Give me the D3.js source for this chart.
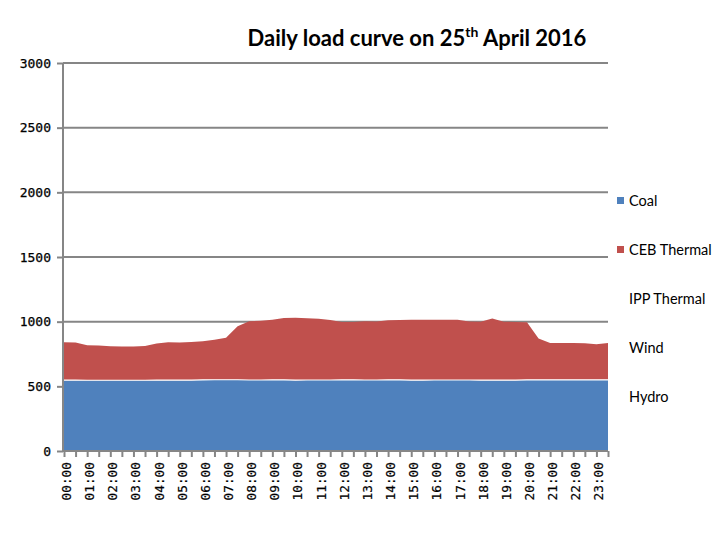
<!DOCTYPE html>
<html><head><meta charset="utf-8">
<script src="https://cdn.jsdelivr.net/npm/d3@7"></script>
<style>body{margin:0;background:#fff;}svg{display:block;}</style>
</head><body>
<svg id="c" width="720" height="540"></svg>
<script>
const times = ["00:00","00:30","01:00","01:30","02:00","02:30","03:00","03:30","04:00","04:30","05:00","05:30",
"06:00","06:30","07:00","07:30","08:00","08:30","09:00","09:30","10:00","10:30","11:00","11:30",
"12:00","12:30","13:00","13:30","14:00","14:30","15:00","15:30","16:00","16:30","17:00","17:30",
"18:00","18:30","19:00","19:30","20:00","20:30","21:00","21:30","22:00","22:30","23:00","23:30"];
const hourLabels = ["00:00","01:00","02:00","03:00","04:00","05:00","06:00","07:00","08:00","09:00","10:00","11:00",
"12:00","13:00","14:00","15:00","16:00","17:00","18:00","19:00","20:00","21:00","22:00","23:00"];
const coal = [548,548,547,547,547,547,547,547,548,548,548,548,550,551,551,551,549,549,550,550,548,549,549,549,
550,550,549,549,550,550,548,548,549,549,549,549,548,548,548,548,550,550,550,550,550,550,550,550];
const cebThermal = [292,290,271,268,263,261,261,265,284,292,290,294,298,309,324,414,454,459,465,478,482,477,473,463,
448,447,454,453,460,462,467,467,466,466,465,453,452,477,452,450,446,320,286,285,285,284,276,286];
const legendNames = ["Coal","CEB Thermal","IPP Thermal","Wind","Hydro"];
const legendColors = ["#4F81BD","#C0504D",null,null,null];
const yTicks = [0,500,1000,1500,2000,2500,3000];

const svg = d3.select("#c");
const L=63, R=608, T=63, B=451;
const x = d3.scalePoint().domain(times).range([L+1, R]);
const y = d3.scaleLinear().domain([0,3000]).range([B, T]);
const grid="#868686";

// gridlines
svg.append("g").selectAll("line").data(yTicks.filter(d=>d>0)).join("line")
  .attr("x1",L).attr("x2",R).attr("y1",d=>y(d)).attr("y2",d=>y(d))
  .attr("stroke",grid).attr("stroke-width",2);

const data = times.map((t,i)=>({t, coal:coal[i], ceb:cebThermal[i]}));
const stack = d3.stack().keys(["coal","ceb"])(data);
const area = d3.area().x(d=>x(d.data.t)).y0(d=>y(d[0])).y1(d=>y(d[1]));
const cols = ["#4F81BD","#C0504D"];
svg.append("g").selectAll("path").data(stack).join("path")
  .attr("d",area).attr("fill",(d,i)=>cols[i]);
// white edge on top of coal
svg.append("path")
  .attr("d",d3.line().x(d=>x(d.data.t)).y(d=>y(d[1]))(stack[0]))
  .attr("fill","none").attr("stroke","#fff").attr("stroke-width",1.2);

// y axis
const yAxis = d3.axisLeft(y).tickValues(yTicks).tickSize(6).tickPadding(6).tickFormat(d3.format("d"));
const gy = svg.append("g").attr("transform",`translate(${L},0)`).call(yAxis);
gy.select(".domain").attr("stroke",grid).attr("stroke-width",2).attr("d",`M0,${T}V${B}`);
gy.selectAll(".tick line").attr("stroke",grid).attr("stroke-width",2);
gy.selectAll(".tick text").attr("font-family","DejaVu Sans Mono").attr("font-size",13).attr("fill","#000")
  .attr("stroke","#000").attr("stroke-width",0.25);

// x axis
const xAxis = d3.axisBottom(x).tickSize(6).tickFormat(d=>hourLabels.includes(d)?d:"");
const gx = svg.append("g").attr("transform",`translate(0,${B})`).call(xAxis);
gx.select(".domain").attr("stroke",grid).attr("stroke-width",2).attr("d",`M${L},0H${R}`);
gx.selectAll(".tick line").attr("stroke",grid).attr("stroke-width",2);
gx.selectAll(".tick text").attr("font-family","DejaVu Sans Mono").attr("font-size",12.8).attr("fill","#000")
  .attr("stroke","#000").attr("stroke-width",0.2)
  .attr("transform","rotate(-90)").attr("text-anchor","end").attr("x",-11).attr("y",2).attr("dy","0.35em");

// title
const title = svg.append("text").attr("x",417).attr("y",46).attr("text-anchor","middle")
  .attr("font-family","Lato").attr("font-weight","bold").attr("font-size",22).attr("fill","#000");
title.append("tspan").text("Daily load curve on 25");
title.append("tspan").text("th").attr("font-size",14).attr("dy",-9);
title.append("tspan").text(" April 2016").attr("dy",9);

// legend
const lg = svg.append("g");
legendNames.forEach((n,i)=>{
  const cy = 201 + i*49;
  if (legendColors[i]) lg.append("rect").attr("x",617).attr("y",cy-4).attr("width",7).attr("height",7).attr("fill",legendColors[i]);
  lg.append("text").attr("x",629).attr("y",cy).attr("dy","0.35em").text(n)
    .attr("font-family","Lato").attr("font-size",14.5).attr("fill","#000");
});
</script>
</body></html>
